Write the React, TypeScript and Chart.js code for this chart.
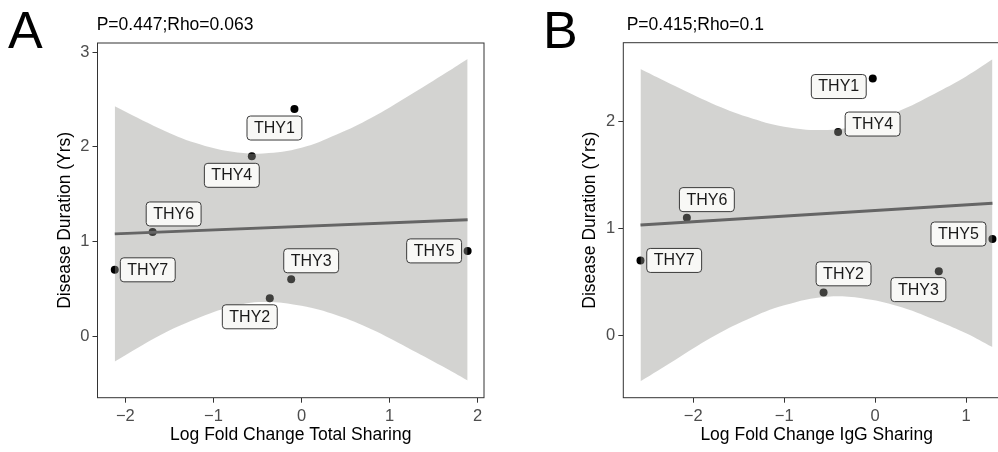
import React, { useEffect, useRef } from 'react';
import { Chart, registerables } from 'chart.js';

Chart.register(...registerables);

// ---------------- data ----------------
const SAMPLES = ['THY1', 'THY2', 'THY3', 'THY4', 'THY5', 'THY6', 'THY7'];
const DURATION_YRS = [2.4, 0.4, 0.6, 1.9, 0.9, 1.1, 0.7];
const LFC_TOTAL = [-0.08, -0.36, -0.117, -0.564, 1.886, -1.69, -2.12];
const LFC_IGG = [-0.026, -0.567, 0.7, -0.407, 1.29, -2.07, -2.58];

// fitted line + confidence band (panel A)
const FIT_X_A = [-2.12, 1.886];
const FIT_Y_A = [1.08, 1.23];
const BAND_X_A = [-2.12, -1.6, -1.2, -0.8, -0.435, 0, 0.4, 0.8, 1.2, 1.6, 1.886];
const BAND_HI_A = [2.43, 2.19, 2.04, 1.95, 1.93, 1.99, 2.13, 2.31, 2.53, 2.76, 2.93];
const BAND_LO_A = [-0.27, 0.01, 0.18, 0.31, 0.36, 0.32, 0.22, 0.07, -0.12, -0.32, -0.47];

// panel B
const FIT_X_B = [-2.58, 1.29];
const FIT_Y_B = [1.03, 1.235];
const BAND_X_B = [-2.58, -2.2, -1.8, -1.4, -1.0, -0.523, -0.1, 0.3, 0.7, 1.0, 1.29];
const BAND_HI_B = [2.49, 2.33, 2.17, 2.04, 1.95, 1.92, 1.98, 2.11, 2.28, 2.42, 2.58];
const BAND_LO_B = [-0.43, -0.23, -0.02, 0.15, 0.28, 0.36, 0.34, 0.26, 0.13, 0.02, -0.11];

const X_TICKS_A = [-2, -1, 0, 1, 2];
const Y_TICKS_A = [0, 1, 2, 3];
const X_TICKS_B = [-2, -1, 0, 1];
const Y_TICKS_B = [0, 1, 2];

const STAT_A = 'P=0.447;Rho=0.063';
const STAT_B = 'P=0.415;Rho=0.1';
const X_TITLE_A = 'Log Fold Change Total Sharing';
const X_TITLE_B = 'Log Fold Change IgG Sharing';
const Y_TITLE = 'Disease Duration (Yrs)';

// ---------------- layout (pixels) ----------------
const LABEL_OFFSETS_A: [number, number][] = [
  [-20, 19], [-20, 18.6], [20, -18.5], [-20, 19], [-33.5, 0], [21, -18], [33, 0],
];
const LABEL_OFFSETS_B: [number, number][] = [
  [-34, 8], [20, -18.7], [-20.4, 18.5], [34.5, -8], [-34, -5], [20, -18], [33.7, 0],
];

const FONT = '"Liberation Sans", Arial, Helvetica, sans-serif';
Chart.defaults.font.family = FONT;

const fmt = (v: number) => (v < 0 ? '\u2212' + Math.abs(v) : String(v));

type PanelCfg = {
  letter: string;
  stat: string;
  xTitle: string;
  xs: number[];
  fitX: number[];
  fitY: number[];
  bandX: number[];
  bandHi: number[];
  bandLo: number[];
  xTicks: number[];
  yTicks: number[];
  xMin: number;
  xMax: number;
  yMin: number;
  yMax: number;
  offsets: [number, number][];
  left: number;
  width: number;
  padding: { left: number; top: number; right: number; bottom: number };
  letterX: number;
  statX: number;
};

const PANEL_A: PanelCfg = {
  letter: 'A', stat: STAT_A, xTitle: X_TITLE_A, xs: LFC_TOTAL,
  fitX: FIT_X_A, fitY: FIT_Y_A, bandX: BAND_X_A, bandHi: BAND_HI_A, bandLo: BAND_LO_A,
  xTicks: X_TICKS_A, yTicks: Y_TICKS_A,
  xMin: -2.316, xMax: 2.072, yMin: -0.652, yMax: 3.098,
  offsets: LABEL_OFFSETS_A,
  left: 0, width: 500,
  padding: { left: 54.2, top: 43, right: 16, bottom: 0 },
  letterX: 8, statX: 96.7,
};

const PANEL_B: PanelCfg = {
  letter: 'B', stat: STAT_B, xTitle: X_TITLE_B, xs: LFC_IGG,
  fitX: FIT_X_B, fitY: FIT_Y_B, bandX: BAND_X_B, bandHi: BAND_HI_B, bandLo: BAND_LO_B,
  xTicks: X_TICKS_B, yTicks: Y_TICKS_B,
  xMin: -2.769, xMax: 1.483, yMin: -0.583, yMax: 2.735,
  offsets: LABEL_OFFSETS_B,
  left: 500, width: 520,
  padding: { left: 80, top: 42.7, right: 10, bottom: 0 },
  letterX: 43, statX: 126.7,
};

const H = 452;
const Y_AXIS_W = 43.3;
const X_AXIS_H = 54.3;

function Panel({ cfg }: { cfg: PanelCfg }) {
  const ref = useRef<HTMLCanvasElement | null>(null);

  useEffect(() => {
    if (!ref.current) return;
    const pts = cfg.xs.map((x, i) => ({ x, y: DURATION_YRS[i] }));
    const fit = cfg.fitX.map((x, i) => ({ x, y: cfg.fitY[i] }));
    const hi = cfg.bandX.map((x, i) => ({ x, y: cfg.bandHi[i] }));
    const lo = cfg.bandX.map((x, i) => ({ x, y: cfg.bandLo[i] }));

    const decor = {
      id: 'decor' + cfg.letter,
      afterDatasetsDraw(chart: any) {
        const ctx = chart.ctx as CanvasRenderingContext2D;
        const a = chart.chartArea;
        ctx.save();
        // panel border
        ctx.strokeStyle = '#333333';
        ctx.lineWidth = 1;
        ctx.strokeRect(a.left, a.top, a.right - a.left, a.bottom - a.top);
        // labels
        const meta = chart.getDatasetMeta(3);
        ctx.font = `16px ${FONT}`;
        ctx.textAlign = 'center';
        ctx.textBaseline = 'middle';
        meta.data.forEach((el: any, i: number) => {
          const [dx, dy] = cfg.offsets[i];
          const cx = el.x + dx;
          const cy = el.y + dy;
          const tw = ctx.measureText(SAMPLES[i]).width;
          const w = tw + 14;
          const h = 24;
          ctx.beginPath();
          (ctx as any).roundRect(cx - w / 2, cy - h / 2, w, h, 3.5);
          ctx.fillStyle = '#f8f8f6';
          ctx.fill();
          ctx.strokeStyle = '#3a3a3a';
          ctx.lineWidth = 1;
          ctx.stroke();
          ctx.fillStyle = '#1a1a1a';
          ctx.fillText(SAMPLES[i], cx, cy + 0.5);
        });
        ctx.restore();
      },
      afterDraw(chart: any) {
        const ctx = chart.ctx as CanvasRenderingContext2D;
        ctx.save();
        ctx.fillStyle = '#000';
        ctx.textAlign = 'left';
        ctx.textBaseline = 'alphabetic';
        ctx.font = `52px ${FONT}`;
        ctx.fillText(cfg.letter, cfg.letterX, 48);
        ctx.font = `17.5px ${FONT}`;
        ctx.fillText(cfg.stat, cfg.statX, 30);
        ctx.restore();
      },
    };

    const chart = new Chart(ref.current, {
      type: 'scatter',
      data: {
        datasets: [
          {
            label: 'fit',
            data: fit,
            showLine: true,
            borderColor: '#656565',
            borderWidth: 3,
            pointRadius: 0,
            fill: false,
            order: 1,
          } as any,
          {
            label: 'bandHi',
            data: hi,
            showLine: true,
            borderWidth: 0,
            borderColor: 'rgba(0,0,0,0)',
            pointRadius: 0,
            tension: 0.4,
            fill: '+1',
            backgroundColor: 'rgba(150,150,146,0.42)',
            order: 2,
          } as any,
          {
            label: 'bandLo',
            data: lo,
            showLine: true,
            borderWidth: 0,
            borderColor: 'rgba(0,0,0,0)',
            pointRadius: 0,
            tension: 0.4,
            fill: false,
            order: 2,
          } as any,
          {
            label: 'points',
            data: pts,
            pointRadius: 4,
            pointBackgroundColor: '#000',
            pointBorderWidth: 0,
            pointBorderColor: '#000',
            order: 3,
          } as any,
        ],
      },
      options: {
        animation: false,
        responsive: false,
        events: [],
        layout: { padding: cfg.padding },
        plugins: {
          legend: { display: false },
          tooltip: { enabled: false },
          title: { display: false },
        },
        scales: {
          x: {
            type: 'linear',
            min: cfg.xMin,
            max: cfg.xMax,
            afterBuildTicks: (s: any) => {
              s.ticks = cfg.xTicks.map((v) => ({ value: v }));
            },
            afterFit: (s: any) => {
              s.height = X_AXIS_H;
            },
            ticks: {
              callback: (v: any) => fmt(Number(v)),
              color: '#4d4d4d',
              font: { size: 16.5 },
              padding: 4,
              maxRotation: 0,
              autoSkip: false,
            },
            grid: {
              display: true,
              drawOnChartArea: false,
              drawTicks: true,
              tickLength: 5,
              color: '#333333',
            },
            border: { display: false },
            title: {
              display: true,
              text: cfg.xTitle,
              color: '#000',
              font: { size: 17.5 },
              padding: { top: 0, bottom: 6.5 },
            },
          },
          y: {
            type: 'linear',
            min: cfg.yMin,
            max: cfg.yMax,
            afterBuildTicks: (s: any) => {
              s.ticks = cfg.yTicks.map((v) => ({ value: v }));
            },
            afterFit: (s: any) => {
              s.width = Y_AXIS_W;
            },
            ticks: {
              callback: (v: any) => fmt(Number(v)),
              color: '#4d4d4d',
              font: { size: 16.5 },
              padding: 3,
              autoSkip: false,
            },
            grid: {
              display: true,
              drawOnChartArea: false,
              drawTicks: true,
              tickLength: 5,
              color: '#333333',
            },
            border: { display: false },
            title: {
              display: true,
              text: Y_TITLE,
              color: '#000',
              font: { size: 17.5 },
              padding: { top: 0, bottom: 0 },
            },
          },
        },
      },
      plugins: [decor],
    } as any);

    return () => chart.destroy();
  }, [cfg]);

  return (
    <div style={{ position: 'absolute', left: cfg.left, top: 0, width: cfg.width, height: H }}>
      <canvas ref={ref} width={cfg.width} height={H} style={{ display: 'block' }} />
    </div>
  );
}

export default function App() {
  return (
    <div
      style={{
        position: 'fixed',
        left: 0,
        top: 0,
        width: 998,
        height: H,
        overflow: 'hidden',
        background: '#fff',
      }}
    >
      <Panel cfg={PANEL_A} />
      <Panel cfg={PANEL_B} />
    </div>
  );
}
